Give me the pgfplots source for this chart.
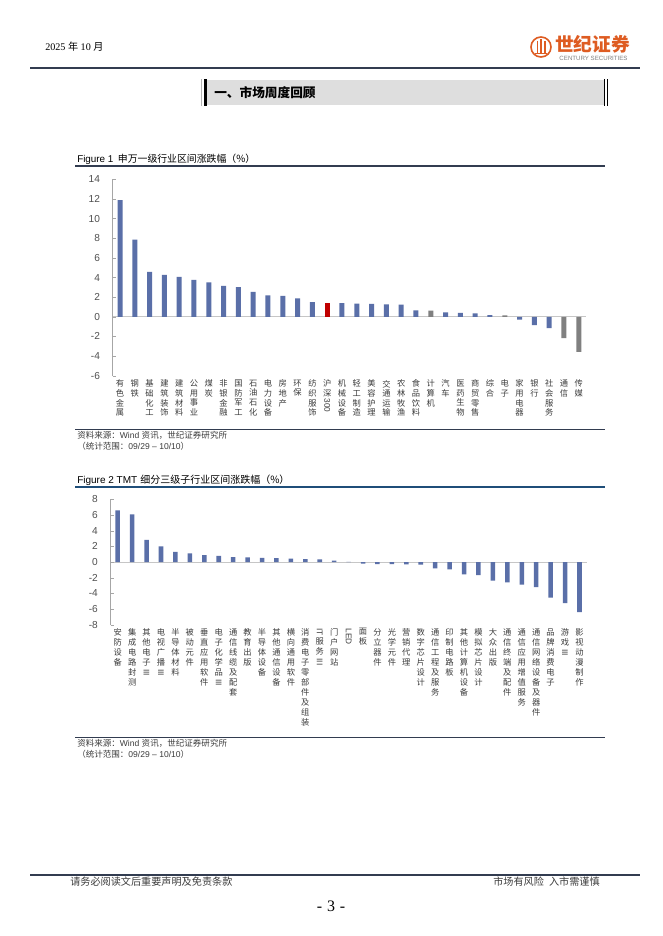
\documentclass[border=0pt]{standalone}
\usepackage{pgfplots}
\pgfplotsset{compat=1.18}
\usepackage{fontspec}
\usepackage{graphicx}
\setmainfont{Liberation Sans}
\newfontfamily\cjk{Noto Sans CJK SC}
\newfontfamily\serif{Liberation Serif}
\definecolor{barblue}{RGB}{90,111,168}
\definecolor{bargray}{RGB}{128,128,128}
\definecolor{barred}{RGB}{192,0,0}
\definecolor{tickgray}{RGB}{80,80,80}
\definecolor{lblgray}{RGB}{60,60,60}
\definecolor{linedark}{RGB}{50,60,80}
\definecolor{lineblue}{RGB}{31,78,121}
\definecolor{logo}{RGB}{222,92,34}
\newcommand\R[1]{\rotatebox[origin=c]{-90}{\rmfamily #1}}
\pgfplotsset{
  pagebar/.style={
    scale only axis, ybar, enlargelimits=false,
    axis lines=left, axis line style={-, draw=gray!70},
    x axis line style={draw=none},
    x tick style={draw=none},
    y tick style={draw=gray!70},
    tick align=inside, major tick length=2.5pt,
    yticklabel style={font=\fontsize{7.6}{9}\selectfont, color=tickgray, xshift=-6pt},
    /pgf/number format/assume math mode=true,
    extra y ticks={0}, extra y tick labels={},
    extra y tick style={grid=major, major grid style={draw=gray!45, line width=0.6pt}},
  }
}
\begin{document}
\begin{tikzpicture}
\begin{scope}[x=0.75pt,y=-0.75pt]
\path[fill=white, use as bounding box] (0,0) rectangle (662,936);
% header
\node[anchor=base west, inner sep=0pt] at (45,50) {\serif\fontsize{7.6}{9}\selectfont 2025 {\cjk 年} 10 {\cjk 月}};
\draw[logo, line width=1.2pt] (541,47) circle (10);
\fill[logo] (536.5,41) rectangle (538,53);
\fill[logo] (540.2,39) rectangle (541.8,53);
\fill[logo] (544,41) rectangle (545.5,53);
\fill[logo] (535,52.5) rectangle (547,54);
\node[anchor=center, inner sep=0pt] at (592.5,44) {\cjk\bfseries\fontsize{14}{15}\selectfont\color{logo}世纪证券};
\node[anchor=center, inner sep=0pt] at (593.5,58.5) {\fontsize{4.6}{5}\selectfont\color{gray}CENTURY SECURITIES};
\draw[linedark, line width=0.8pt] (30,68) -- (640,68);
% section box
\fill[gray!26] (207,80) rectangle (604,105);
\fill[black] (203.5,79) rectangle (206.5,106);
\draw[gray!60, line width=0.5pt] (201,79) -- (201,106);
\draw[black, line width=0.6pt] (604.5,79) -- (604.5,106);
\draw[black, line width=0.6pt] (607.5,79) -- (607.5,106);
\node[anchor=west, inner sep=0pt] at (214,93) {\cjk\bfseries\fontsize{9.5}{10}\selectfont 一、市场周度回顾};
% figure 1 frame
\node[anchor=base west, inner sep=0pt] at (77,162) {\fontsize{7.4}{8}\selectfont Figure 1\hspace{0.45em}{\cjk 申万一级行业区间涨跌幅（\%）}};
\draw[linedark, line width=0.8pt] (75,166) -- (605,166);
\draw[linedark, line width=0.8pt] (75,429.3) -- (605,429.3);
\node[anchor=base west, inner sep=0pt] at (77,438.5) {\fontsize{6.4}{7}\selectfont\color{lblgray}{\cjk 资料来源：}Wind {\cjk 资讯，世纪证券研究所}};
\node[anchor=base west, inner sep=0pt] at (77,449.5) {\fontsize{6.4}{7}\selectfont\color{lblgray}{\cjk （统计范围：}09/29 – 10/10{\cjk ）}};
% figure 2 frame
\node[anchor=base west, inner sep=0pt] at (77,483) {\fontsize{7.5}{8}\selectfont Figure 2 TMT\hspace{0.3em}{\cjk 细分三级子行业区间涨跌幅（\%）}};
\draw[lineblue, line width=1.5pt] (75,486.7) -- (605,486.7);
\draw[linedark, line width=0.8pt] (75,737.7) -- (605,737.7);
\node[anchor=base west, inner sep=0pt] at (77,746.5) {\fontsize{6.4}{7}\selectfont\color{lblgray}{\cjk 资料来源：}Wind {\cjk 资讯，世纪证券研究所}};
\node[anchor=base west, inner sep=0pt] at (77,757.5) {\fontsize{6.4}{7}\selectfont\color{lblgray}{\cjk （统计范围：}09/29 – 10/10{\cjk ）}};
% footer
\draw[linedark, line width=0.8pt] (30,875) -- (640,875);
\node[anchor=base west, inner sep=0pt] at (70,885) {\cjk\fontsize{7.6}{8}\selectfont\color{lblgray}请务必阅读文后重要声明及免责条款};
\node[anchor=base east, inner sep=0pt] at (600,885) {\cjk\fontsize{7.6}{8}\selectfont\color{lblgray}市场有风险\hspace{0.5em}入市需谨慎};
\node[anchor=center, inner sep=0pt] at (331,906) {\serif\fontsize{12}{13}\selectfont -\hspace{0.3em}3\hspace{0.3em}-};
\end{scope}

% ---------------- Figure 1 ----------------
\begin{axis}[pagebar,
  at={(84.45pt,-281.78pt)}, anchor=south west,
  width=355.2pt, height=147.3pt,
  xmin=0.5, xmax=32.5, ymin=-6, ymax=14,
  ytick={-6,-4,...,14},
  bar width=3.75pt,
  xtick={1,...,32},
  xticklabel style={font=\cjk\fontsize{6.2}{7.2}\selectfont, color=lblgray, align=center, anchor=north, inner sep=0pt, yshift=-3pt},
  xticklabels={{有\\色\\金\\属},{钢\\铁},{基\\础\\化\\工},{建\\筑\\装\\饰},{建\\筑\\材\\料},{公\\用\\事\\业},{煤\\炭},{非\\银\\金\\融},{国\\防\\军\\工},{石\\油\\石\\化},{电\\力\\设\\备},{房\\地\\产},{环\\保},{纺\\织\\服\\饰},{沪\\深\\\R{300}},{机\\械\\设\\备},{轻\\工\\制\\造},{美\\容\\护\\理},{交\\通\\运\\输},{农\\林\\牧\\渔},{食\\品\\饮\\料},{计\\算\\机},{汽\\车},{医\\药\\生\\物},{商\\贸\\零\\售},{综\\合},{电\\子},{家\\用\\电\\器},{银\\行},{社\\会\\服\\务},{通\\信},{传\\媒}},
]
\addplot[fill=barblue, draw=none, bar shift=0pt] coordinates {
(1,11.88) (2,7.87) (3,4.58) (4,4.28) (5,4.07) (6,3.77) (7,3.50) (8,3.16) (9,3.02) (10,2.55)
(11,2.17) (12,2.14) (13,1.87) (14,1.49) (16,1.40) (17,1.33) (18,1.32) (19,1.26) (20,1.25)
(21,0.66) (23,0.44) (24,0.41) (25,0.34) (26,0.17) (28,-0.30) (29,-0.85) (30,-1.15)};
\addplot[fill=barred, draw=none, bar shift=0pt] coordinates {(15,1.42)};
\addplot[fill=bargray, draw=none, bar shift=0pt] coordinates {(22,0.63) (27,0.15) (31,-2.17) (32,-3.58)};
\end{axis}

% ---------------- Figure 2 ----------------
\begin{axis}[pagebar,
  at={(82.88pt,-468.53pt)}, anchor=south west,
  width=357.15pt, height=94.05pt,
  xmin=0.5, xmax=33.5, ymin=-8, ymax=8,
  ytick={-8,-6,...,8},
  bar width=3.4pt,
  xtick={1,...,33},
  xticklabel style={font=\cjk\fontsize{6.2}{7.5}\selectfont, color=lblgray, align=center, anchor=north, inner sep=0pt, yshift=-2.6pt},
  xticklabels={{安\\防\\设\\备},{集\\成\\电\\路\\封\\测},{其\\他\\电\\子\\\R{III}},{电\\视\\广\\播\\\R{III}},{半\\导\\体\\材\\料},{被\\动\\元\\件},{垂\\直\\应\\用\\软\\件},{电\\子\\化\\学\\品\\\R{III}},{通\\信\\线\\缆\\及\\配\\套},{教\\育\\出\\版},{半\\导\\体\\设\\备},{其\\他\\通\\信\\设\\备},{横\\向\\通\\用\\软\\件},{消\\费\\电\\子\\零\\部\\件\\及\\组\\装},{\R{IT}\\服\\务\\\R{III}},{门\\户\\网\\站},{\R{LED}},{面\\板},{分\\立\\器\\件},{光\\学\\元\\件},{营\\销\\代\\理},{数\\字\\芯\\片\\设\\计},{通\\信\\工\\程\\及\\服\\务},{印\\制\\电\\路\\板},{其\\他\\计\\算\\机\\设\\备},{模\\拟\\芯\\片\\设\\计},{大\\众\\出\\版},{通\\信\\终\\端\\及\\配\\件},{通\\信\\应\\用\\增\\值\\服\\务},{通\\信\\网\\络\\设\\备\\及\\器\\件},{品\\牌\\消\\费\\电\\子},{游\\戏\\\R{III}},{影\\视\\动\\漫\\制\\作}},
]
\addplot[fill=barblue, draw=none, bar shift=0pt] coordinates {
(1,6.60) (2,6.09) (3,2.81) (4,2.00) (5,1.28) (6,1.11) (7,0.89) (8,0.77) (9,0.61) (10,0.60)
(11,0.52) (12,0.51) (13,0.43) (14,0.38) (15,0.34) (16,0.17) (17,0.03) (18,-0.22) (19,-0.26)
(20,-0.27) (21,-0.30) (22,-0.34) (23,-0.81) (24,-0.94) (25,-1.57) (26,-1.66) (27,-2.38)
(28,-2.60) (29,-2.89) (30,-3.19) (31,-4.55) (32,-5.23) (33,-6.38)};
\end{axis}
\end{tikzpicture}
\end{document}
